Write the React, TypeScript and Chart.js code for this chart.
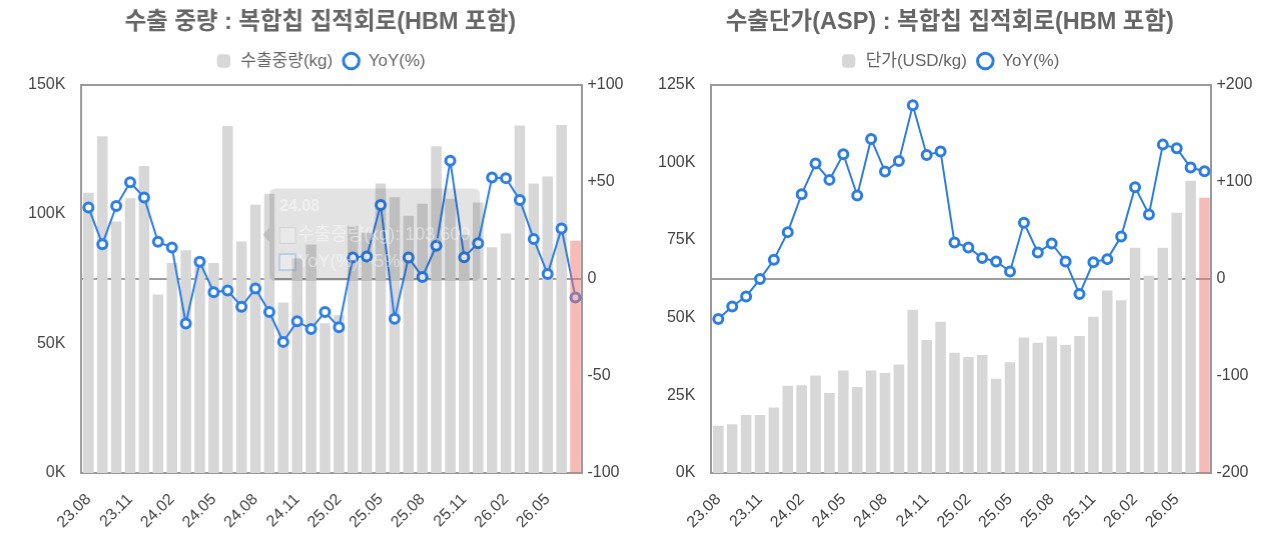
import React, { useEffect, useRef } from 'react';
import { Chart, registerables, Tooltip } from 'chart.js';

Chart.register(...registerables);

// ---------- data ----------
const MONTHS: string[] = [
  '23.08', '23.09', '23.10', '23.11', '23.12',
  '24.01', '24.02', '24.03', '24.04', '24.05', '24.06', '24.07', '24.08', '24.09', '24.10', '24.11', '24.12',
  '25.01', '25.02', '25.03', '25.04', '25.05', '25.06', '25.07', '25.08', '25.09', '25.10', '25.11', '25.12',
  '26.01', '26.02', '26.03', '26.04', '26.05', '26.06', '26.07',
];

const WEIGHT_KG: number[] = [
  108200, 130000, 97100, 106100, 118500,
  68900, 81100, 86000, 83200, 81100, 134000, 89400, 103600, 107800, 65800, 82800, 88200,
  57800, 60900, 95500, 92800, 111800, 106500, 99300, 104000, 126200, 105900, 92000, 104400,
  87200, 92500, 134200, 111800, 114500, 134400, 89700,
];

const WEIGHT_YOY: number[] = [
  36.7, 17.8, 37.4, 49.7, 41.8,
  19.0, 16.1, -23.0, 8.7, -6.9, -6.0, -14.4, -5.0, -17.1, -32.5, -21.9, -25.9,
  -17.1, -25.0, 11.0, 11.5, 38.0, -20.6, 11.0, 0.9, 17.0, 60.8, 11.1, 18.3,
  52.1, 51.8, 40.6, 20.4, 2.4, 25.9, -9.6,
];

const ASP_USD: number[] = [
  15200, 15700, 18700, 18700, 21100,
  28100, 28200, 31400, 25700, 33000, 27700, 33000, 32200, 34900, 52500, 42800, 48700,
  38700, 37300, 38000, 30300, 35600, 43600, 41900, 43900, 41200, 44100, 50300, 58700,
  55600, 72500, 63500, 72500, 83700, 94000, 88600,
];

const ASP_YOY: number[] = [
  -41.5, -28.5, -18.2, -0.3, 19.5,
  48.0, 87.1, 118.6, 101.8, 128.2, 85.7, 144.0, 110.4, 121.3, 178.6, 127.5, 130.9,
  37.3, 32.2, 21.3, 17.8, 7.5, 57.6, 27.1, 36.3, 17.8, -15.8, 17.1, 20.2,
  43.5, 94.3, 66.2, 138.1, 134.3, 114.5, 110.7,
];

const LEFT_Y_TICKS = { min: 0, max: 150000, step: 50000 };
const LEFT_Y1_TICKS = { min: -100, max: 100, step: 50 };
const RIGHT_Y_TICKS = { min: 0, max: 125000, step: 25000 };
const RIGHT_Y1_TICKS = { min: -200, max: 200, step: 100 };

// hovered month shown in the (fading) tooltip of the left chart
const HOVER_INDEX = 12;
const HOVER_Y_VALUE = 92000;

// ---------- style ----------
const GRAY = '#d7d7d7';
const PINK = 'rgba(238,120,110,0.5)';
const BLUE = '#2b7de9';
const FRAME = '#999999';
const ZERO = 'rgba(0,0,0,0.38)';
const FONT = "Arial, 'Liberation Sans', 'Noto Sans CJK KR', sans-serif";

Chart.defaults.font.family = FONT;

(Tooltip as any).positioners.hoverPos = function (items: any[], eventPosition: any) {
  if (!items.length) return false;
  return { x: items[0].element.x, y: eventPosition ? eventPosition.y : items[0].element.y };
};

type PanelProps = {
  title: string;
  barLabel: string;
  bars: number[];
  yoy: number[];
  yTicks: { min: number; max: number; step: number };
  y1Ticks: { min: number; max: number; step: number };
  hover?: boolean;
};

function buildConfig(p: PanelProps): any {
  const last = p.bars.length - 1;
  const grayData = p.bars.map((v, i) => (i === last ? null : v));
  const pinkData = p.bars.map((v, i) => (i === last ? v : null));
  const tickFont = { size: 16 };
  return {
    type: 'bar',
    data: {
      labels: MONTHS,
      datasets: [
        {
          type: 'bar',
          label: p.barLabel,
          data: grayData,
          backgroundColor: GRAY,
          borderWidth: 0,
          yAxisID: 'y',
          order: 2,
          grouped: false,
          barPercentage: 0.76,
          categoryPercentage: 1,
          pointStyle: 'rectRounded',
        },
        {
          type: 'line',
          label: 'YoY(%)',
          data: p.yoy,
          yAxisID: 'y1',
          borderColor: BLUE,
          backgroundColor: '#ffffff',
          borderWidth: 2,
          pointRadius: 4.5,
          pointBorderWidth: 3,
          pointBackgroundColor: '#ffffff',
          pointBorderColor: BLUE,
          tension: 0,
          order: 1,
          pointStyle: 'circle',
        },
        {
          type: 'bar',
          label: 'latest',
          data: pinkData,
          backgroundColor: PINK,
          borderWidth: 0,
          yAxisID: 'y',
          order: 0,
          grouped: false,
          barPercentage: 0.76,
          categoryPercentage: 1,
        },
      ],
    },
    options: {
      responsive: true,
      maintainAspectRatio: false,
      animation: false,
      events: [],
      layout: { padding: { left: 4, right: 10, top: 0, bottom: 0 } },
      plugins: {
        title: {
          display: true,
          text: p.title,
          color: '#666666',
          font: { size: 23.5, weight: 'bold' },
          padding: { top: 0.5, bottom: 5.8 },
        },
        legend: {
          display: true,
          labels: {
            usePointStyle: true,
            boxHeight: 11,
            color: '#666666',
            font: { size: 17 },
            padding: 10,
            filter: (item: any) => item.datasetIndex !== 2,
            sort: (a: any, b: any) => a.datasetIndex - b.datasetIndex,
            generateLabels: (chart: any) =>
              (Chart.defaults.plugins.legend.labels as any).generateLabels(chart).map((it: any) =>
                it.datasetIndex === 1
                  ? { ...it, lineWidth: 3, fillStyle: '#ffffff', pointStyle: 'circle' }
                  : { ...it, lineWidth: 0, pointStyle: 'rectRounded' }
              ),
          },
        },
        tooltip: {
          enabled: !!p.hover,
          position: 'hoverPos',
          xAlign: 'left',
          yAlign: 'center',
          backgroundColor: 'rgba(0,0,0,0.11)',
          titleColor: 'rgba(255,255,255,0.45)',
          bodyColor: 'rgba(255,255,255,0.45)',
          titleFont: { size: 16, weight: 'bold' },
          bodyFont: { size: 18 },
          padding: { top: 8, bottom: 8, left: 10, right: 10 },
          caretSize: 7,
          caretPadding: 7,
          cornerRadius: 6,
          boxWidth: 16,
          boxHeight: 16,
          titleMarginBottom: 9,
          bodySpacing: 5,
          multiKeyBackground: 'rgba(0,0,0,0)',
          filter: (item: any) => item.datasetIndex !== 2,
          callbacks: {
            label: (ctx: any) =>
              ctx.datasetIndex === 1
                ? `${ctx.dataset.label}: ${Math.round(ctx.parsed.y)}%`
                : `${ctx.dataset.label}: ${ctx.parsed.y.toLocaleString('en-US')}`,
            labelColor: (ctx: any) =>
              ctx.datasetIndex === 1
                ? { borderColor: 'rgba(43,125,233,0.22)', backgroundColor: 'rgba(255,255,255,0.25)', borderWidth: 2 }
                : { borderColor: 'rgba(0,0,0,0.07)', backgroundColor: 'rgba(255,255,255,0.18)', borderWidth: 1 },
          },
        },
      },
      scales: {
        x: {
          position: 'bottom',
          grid: { display: false, drawTicks: false },
          border: { display: true, color: FRAME, width: 2 },
          ticks: {
            autoSkip: false,
            minRotation: 45,
            maxRotation: 45,
            padding: 17,
            color: '#444444',
            font: tickFont,
            callback: (_v: any, i: number) => (i % 3 === 0 ? MONTHS[i] : ''),
          },
          afterFit: (s: any) => {
            s.height = 70;
          },
        },
        xTop: {
          type: 'category',
          position: 'top',
          grid: { display: false, drawTicks: false },
          ticks: { display: false },
          border: { display: true, color: FRAME, width: 2 },
          afterFit: (s: any) => {
            s.height = 5;
          },
        },
        y: {
          position: 'left',
          min: p.yTicks.min,
          max: p.yTicks.max,
          grid: { display: false, drawTicks: false },
          border: { display: true, color: FRAME, width: 2 },
          ticks: {
            stepSize: p.yTicks.step,
            padding: 16,
            color: '#444444',
            font: tickFont,
            callback: (v: any) => `${Number(v) / 1000}K`,
          },
        },
        y1: {
          position: 'right',
          min: p.y1Ticks.min,
          max: p.y1Ticks.max,
          z: 1,
          grid: {
            display: true,
            drawTicks: false,
            lineWidth: 2,
            color: (ctx: any) => (ctx.tick && ctx.tick.value === 0 ? ZERO : 'rgba(0,0,0,0)'),
          },
          border: { display: true, color: FRAME, width: 2 },
          ticks: {
            stepSize: p.y1Ticks.step,
            padding: 5,
            color: '#444444',
            font: tickFont,
            callback: (v: any) => (Number(v) > 0 ? `+${v}` : `${v}`),
          },
        },
      },
    },
  };
}

function ChartPanel(props: PanelProps) {
  const ref = useRef<HTMLCanvasElement>(null);
  useEffect(() => {
    if (!ref.current) return;
    const chart: any = new Chart(ref.current, buildConfig(props));
    if (props.hover) {
      const el = chart.getDatasetMeta(0).data[HOVER_INDEX];
      chart.tooltip.setActiveElements(
        [
          { datasetIndex: 0, index: HOVER_INDEX },
          { datasetIndex: 1, index: HOVER_INDEX },
        ],
        { x: el.x, y: chart.scales.y.getPixelForValue(HOVER_Y_VALUE) }
      );
      chart.draw();
    }
    return () => chart.destroy();
  }, []);
  return (
    <div style={{ position: 'relative', flex: '1 1 0', minWidth: 0, height: '100%' }}>
      <canvas ref={ref} />
    </div>
  );
}

export default function App() {
  return (
    <div style={{ display: 'flex', width: '100%', height: 535 }}>
      <ChartPanel
        title="수출 중량 : 복합칩 집적회로(HBM 포함)"
        barLabel="수출중량(kg)"
        bars={WEIGHT_KG}
        yoy={WEIGHT_YOY}
        yTicks={LEFT_Y_TICKS}
        y1Ticks={LEFT_Y1_TICKS}
        hover
      />
      <ChartPanel
        title="수출단가(ASP) : 복합칩 집적회로(HBM 포함)"
        barLabel="단가(USD/kg)"
        bars={ASP_USD}
        yoy={ASP_YOY}
        yTicks={RIGHT_Y_TICKS}
        y1Ticks={RIGHT_Y1_TICKS}
      />
    </div>
  );
}
